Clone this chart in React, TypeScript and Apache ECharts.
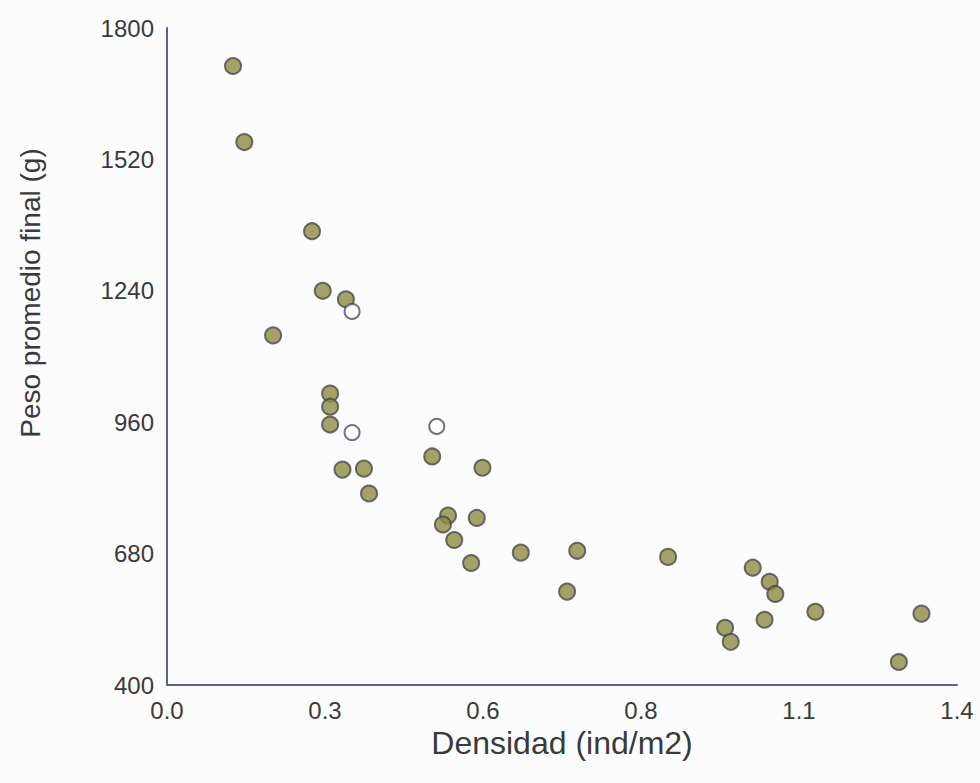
import React, { useEffect, useRef } from "react";
import * as echarts from "echarts";

const xTicks = [0, 0.28, 0.56, 0.84, 1.12, 1.4];
const yTicks = [400, 680, 960, 1240, 1520, 1800];

const filledDensity = [
  0.117, 0.137, 0.257, 0.276, 0.317, 0.188, 0.289, 0.289, 0.289, 0.311, 0.349,
  0.358, 0.470, 0.559, 0.498, 0.489, 0.509, 0.549, 0.539, 0.627, 0.727, 0.709,
  0.888, 1.038, 1.068, 1.078, 0.989, 0.999, 1.059, 1.149, 1.297, 1.337,
];
const filledWeight = [
  1719, 1557, 1367, 1240, 1222, 1145, 1021, 993, 955, 859, 861,
  808, 887, 863, 761, 742, 709, 756, 660, 682, 686, 599,
  673, 650, 620, 594, 522, 492, 539, 556, 449, 552,
];
const openDensity = [0.328, 0.328, 0.478];
const openWeight = [1196, 938, 951];

export default function App() {
  const ref = useRef<HTMLDivElement>(null);
  useEffect(() => {
    if (!ref.current) return;
    const chart = echarts.init(ref.current, null, { renderer: "svg" });
    const font = "Liberation Sans, Arial, sans-serif";
    chart.setOption({
      animation: false,
      backgroundColor: "#fcfcfd",
      grid: { left: 167, right: 23, top: 28, bottom: 98, containLabel: false },
      xAxis: {
        type: "value",
        min: xTicks[0],
        max: xTicks[xTicks.length - 1],
        interval: xTicks[1] - xTicks[0],
        name: "Densidad (ind/m2)",
        nameLocation: "middle",
        nameGap: 40,
        nameTextStyle: { fontFamily: font, fontSize: 32, color: "#3a3a3a" },
        axisLine: { show: true, lineStyle: { color: "#5d6190", width: 2 } },
        axisTick: { show: false },
        splitLine: { show: false },
        axisLabel: {
          fontFamily: font,
          fontSize: 24,
          color: "#3a3a3a",
          margin: 13,
          formatter: (v: number) => v.toFixed(1),
        },
      },
      yAxis: {
        type: "value",
        min: yTicks[0],
        max: yTicks[yTicks.length - 1],
        interval: yTicks[1] - yTicks[0],
        axisLine: { show: true, lineStyle: { color: "#5d6190", width: 2 } },
        axisTick: { show: false },
        splitLine: { show: false },
        axisLabel: {
          fontFamily: font,
          fontSize: 24,
          color: "#3a3a3a",
          margin: 13,
          formatter: (v: number) => String(v),
        },
      },
      graphic: [
        {
          type: "text",
          x: 30,
          y: 293,
          rotation: Math.PI / 2,
          style: {
            text: "Peso promedio final (g)",
            fontFamily: font,
            fontSize: 28,
            fill: "#3a3a3a",
            align: "center",
            verticalAlign: "middle",
          },
        },
      ],
      series: [
        {
          type: "scatter",
          symbol: "circle",
          symbolSize: 16,
          data: filledDensity.map((x, i) => [x, filledWeight[i]]),
          itemStyle: { color: "#8e8b42", borderColor: "#4a4a4c", borderWidth: 2 },
        },
        {
          type: "scatter",
          symbol: "circle",
          symbolSize: 15,
          data: openDensity.map((x, i) => [x, openWeight[i]]),
          itemStyle: { color: "#ffffff", borderColor: "#4c4e66", borderWidth: 2 },
        },
      ],
    });
    return () => chart.dispose();
  }, []);
  return (
    <div
      ref={ref}
      style={{ position: "fixed", left: 0, top: 0, width: 980, height: 783 }}
    />
  );
}
